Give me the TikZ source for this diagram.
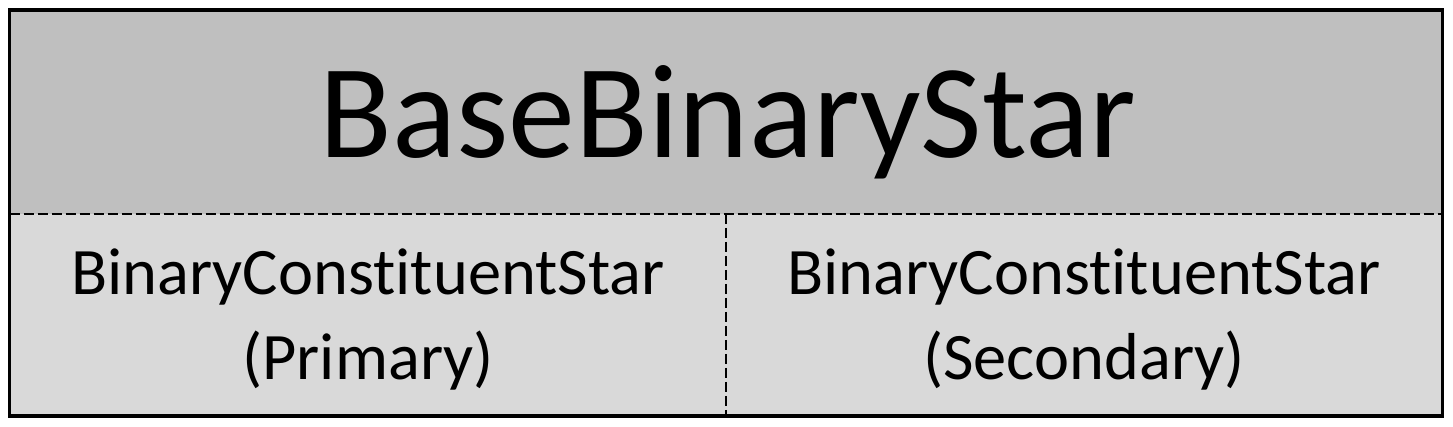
\documentclass[tikz,border=0pt]{standalone}
\usepackage{fontspec}
\setmainfont[Ligatures=NoCommon]{Carlito}
\definecolor{topgrey}{HTML}{BFBFBF}
\definecolor{lowgrey}{HTML}{D9D9D9}
\begin{document}
\begin{tikzpicture}[x=0.75pt,y=-0.75pt,
  cell/.style={draw=none,inner sep=0pt,outer sep=0pt,anchor=north west},
  sep/.style={line width=1.9pt,dash pattern=on 7.5pt off 3pt},
  frame/.style={line width=2.6pt},
  bigtxt/.style={inner sep=0pt,font=\fontsize{100.3}{120}\selectfont},
  smalltxt/.style={inner sep=0pt,align=center,font=\fontsize{49.8}{63.75}\selectfont}]
\useasboundingbox (0,0) rectangle (1453,427);
\node[cell,fill=topgrey,minimum width=1074.75pt,minimum height=153pt] (top) at (9.5,10) {};
\node[cell,fill=lowgrey,minimum width=537.4pt,minimum height=151.5pt] (left) at (9.5,214) {};
\node[cell,fill=lowgrey,minimum width=537.4pt,minimum height=151.5pt] (right) at (726,214) {};
\draw[sep] (top.south west) -- (top.south east);
\draw[sep] (left.north east) -- (left.south east);
\draw[frame] (top.north west) rectangle (right.south east);
\node[bigtxt,anchor=base] (title) at (728,157.3) {BaseBinaryStar};
\node[smalltxt,anchor=base] (prim) at (368,380) {BinaryConstituentStar\\(Primary)};
\node[smalltxt,anchor=base] (sec) at (1084,380) {BinaryConstituentStar\\(Secondary)};
\end{tikzpicture}
\end{document}
